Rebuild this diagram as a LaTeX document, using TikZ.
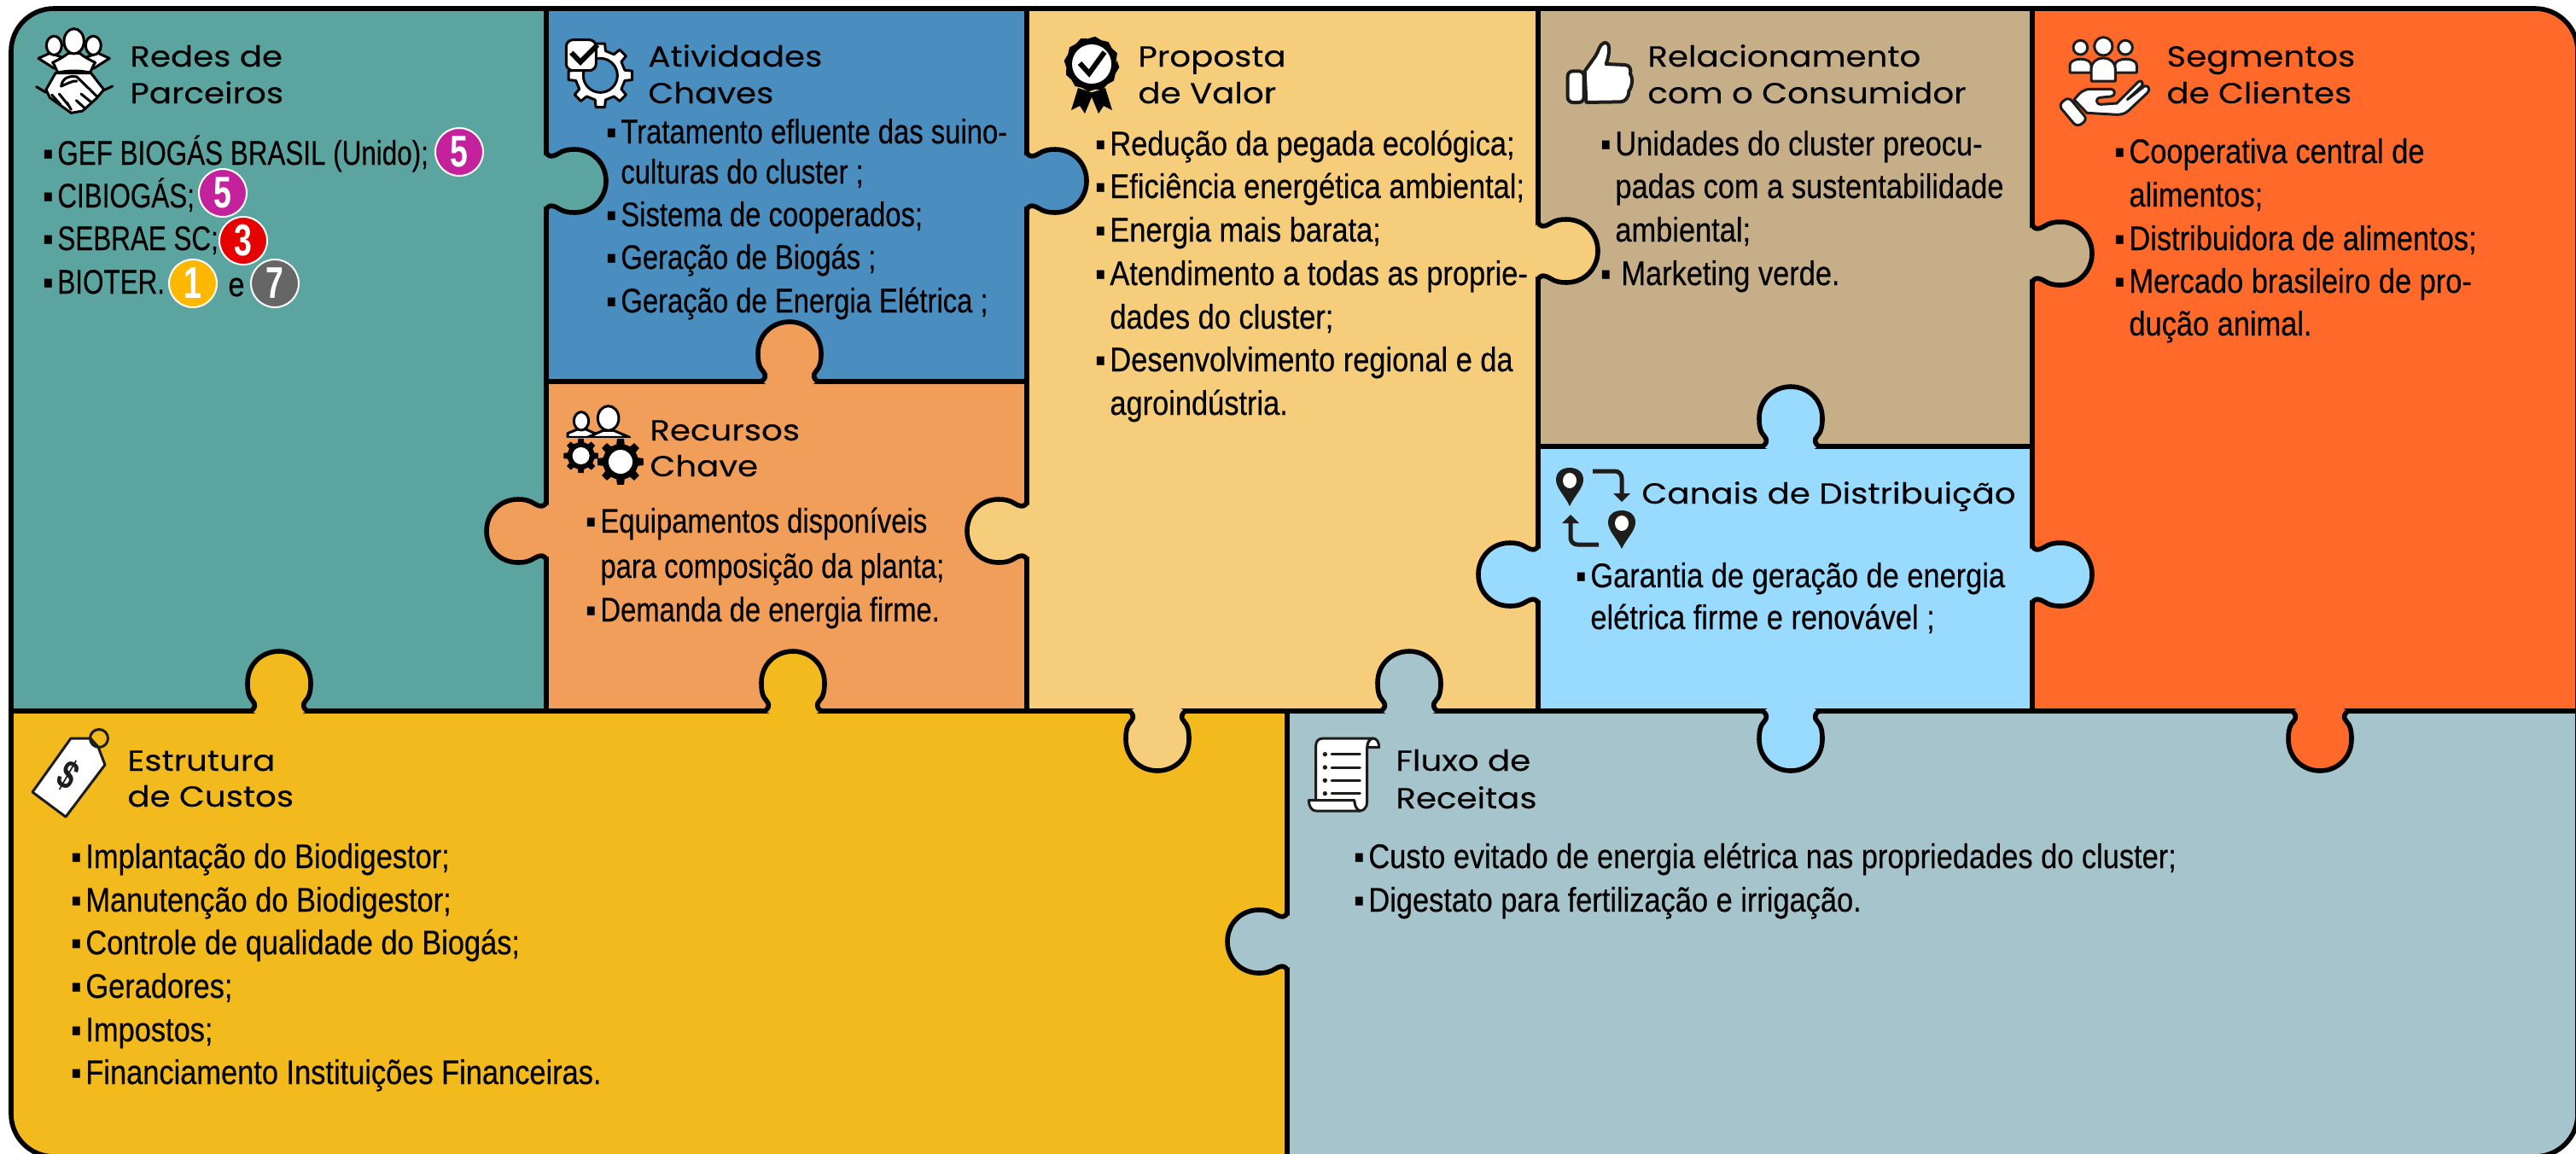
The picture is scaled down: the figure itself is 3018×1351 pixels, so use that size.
\documentclass[tikz,border=0pt]{standalone}
\usepackage{fontspec}
\setmainfont{Liberation Sans}
\newfontfamily\bodyf[FakeStretch=0.86,FakeBold=0.35]{Liberation Sans}
\newfontfamily\bodyn[FakeStretch=0.82,FakeBold=0.35]{Liberation Sans}
\newfontfamily\bodyc[FakeStretch=0.785,FakeBold=0.35]{Liberation Sans}
\newfontfamily\badgef[FakeStretch=0.72]{Liberation Sans}
\newfontfamily\headf[FakeStretch=1.14,FakeBold=0.15]{Poppins}
\definecolor{cteal}{HTML}{5BA4A0}
\definecolor{cblue}{HTML}{4A8EC0}
\definecolor{corange}{HTML}{F19E5B}
\definecolor{cyell}{HTML}{F6CD7B}
\definecolor{ctan}{HTML}{C6AF88}
\definecolor{cseg}{HTML}{FF6A2A}
\definecolor{csky}{HTML}{99DBFF}
\definecolor{cgold}{HTML}{F3BA1E}
\definecolor{cgray}{HTML}{A6C4CB}
\definecolor{cpurple}{HTML}{C4229C}
\definecolor{cred}{HTML}{E60000}
\definecolor{camber}{HTML}{FFB800}
\definecolor{cdgray}{HTML}{666666}
\definecolor{cink}{HTML}{1D1D1B}
\newcounter{nc}
% heading line
\newcommand\hdl[3]{\stepcounter{nc}\node[headtxt] (h\arabic{nc}) at (#1,#2) {#3};}
% body line with bullet / without
\newcommand\bul[3]{\stepcounter{nc}\node[bodytxt] (b\arabic{nc}) at (#1,#2) {\llap{▪\hspace{2.5pt}}#3};}
\newcommand\cont[3]{\stepcounter{nc}\node[bodytxt] (b\arabic{nc}) at (#1,#2) {#3};}
\newcommand\badge[4]{\stepcounter{nc}\node[badgenode,fill=#3] (d\arabic{nc}) at (#1,#2) {#4};}
% puzzle tabs: x, y, rotation, colour
\newcommand\htab[4]{\begin{scope}[shift={(#1,#2)},rotate=#3]
 \fill[#4] (-3.5,-28) -- (0,-35) .. controls (0,-29) and (6,-27) .. (14,-32) .. controls (20,-36) and (26,-37) .. (33,-37) .. controls (55,-37) and (70,-20) .. (70,0) .. controls (70,20) and (55,37) .. (33,37) .. controls (26,37) and (20,36) .. (14,32) .. controls (6,27) and (0,29) .. (0,35) -- (-3.5,28) -- cycle;
 \draw[tile] (0,-35) .. controls (0,-29) and (6,-27) .. (14,-32) .. controls (20,-36) and (26,-37) .. (33,-37) .. controls (55,-37) and (70,-20) .. (70,0) .. controls (70,20) and (55,37) .. (33,37) .. controls (26,37) and (20,36) .. (14,32) .. controls (6,27) and (0,29) .. (0,35);
 \end{scope}}
\newcommand\vtab[4]{\begin{scope}[shift={(#1,#2)},rotate=#3]
 \fill[#4] (-3.5,-26) -- (0,-33) .. controls (3,-29) and (5,-28) .. (9,-29) .. controls (14,-31) and (14,-37) .. (33,-37) .. controls (55,-37) and (70,-20) .. (70,0) .. controls (70,20) and (55,37) .. (33,37) .. controls (14,37) and (14,31) .. (9,29) .. controls (5,28) and (3,29) .. (0,33) -- (-3.5,26) -- cycle;
 \draw[tile] (0,-33) .. controls (3,-29) and (5,-28) .. (9,-29) .. controls (14,-31) and (14,-37) .. (33,-37) .. controls (55,-37) and (70,-20) .. (70,0) .. controls (70,20) and (55,37) .. (33,37) .. controls (14,37) and (14,31) .. (9,29) .. controls (5,28) and (3,29) .. (0,33);
 \end{scope}}
% gear: cx cy outer inner style
\newcommand\gear[5]{\filldraw[#5,shift={(#1,#2)}] (-12:#4) \foreach \a in {0,45,...,315} { -- (\a-12:#4) -- (\a-8:#3) -- (\a+8:#3) -- (\a+12:#4) } -- cycle;}
\newcommand\pinicon[2]{\begin{scope}[shift={(#1,#2)}]
 \fill[cink] (0,45) .. controls (-6,32) and (-16,24) .. (-16,14) .. controls (-16,5) and (-9,0) .. (0,0) .. controls (9,0) and (16,5) .. (16,14) .. controls (16,24) and (6,32) .. (0,45) -- cycle;
 \fill[white] (0,15) ellipse (8 and 9);
 \end{scope}}
\begin{document}
\begin{tikzpicture}[x=0.5pt,y=-0.5pt,
 tile/.style={draw=black,line width=2.8pt,line join=round,line cap=round},
 icon/.style={draw=black,fill=white,line width=1.5pt,line join=round,line cap=round},
 headtxt/.style={anchor=base west,inner sep=0pt,font=\headf\fontsize{17}{20}\selectfont},
 bodytxt/.style={anchor=base west,inner sep=0pt,font=\bodyf\fontsize{20}{24}\selectfont},
 badgenode/.style={circle,draw=white,line width=1pt,minimum size=28pt,inner sep=0pt,text=white,font=\badgef\bfseries\fontsize{26}{26}\selectfont}]
\useasboundingbox (0,0) rectangle (3018,1351);
\fill[white] (0,0) rectangle (3018,1351);
\begin{scope}
\clip[rounded corners=25pt] (13,10) rectangle (3020,1355);
\fill[cteal] (13,10) rectangle (640,833);
\fill[cblue] (640,10) rectangle (1203,447);
\fill[corange] (640,447) rectangle (1203,833);
\fill[cyell] (1203,10) rectangle (1802,833);
\fill[ctan] (1802,10) rectangle (2381,523);
\fill[csky] (1802,523) rectangle (2381,833);
\fill[cseg] (2381,10) rectangle (3020,833);
\fill[cgold] (13,833) rectangle (1508,1355);
\fill[cgray] (1508,833) rectangle (3020,1355);
\draw[tile] (640,10) -- (640,833);
\draw[tile] (1203,10) -- (1203,833);
\draw[tile] (1802,10) -- (1802,833);
\draw[tile] (2381,10) -- (2381,833);
\draw[tile] (640,447) -- (1203,447);
\draw[tile] (1802,523) -- (2381,523);
\draw[tile] (13,833) -- (3020,833);
\draw[tile] (1508,833) -- (1508,1355);
\htab{640}{212}{0}{cteal}
\htab{1203}{212}{0}{cblue}
\htab{1802}{294}{0}{cyell}
\htab{2381}{297}{0}{ctan}
\htab{640}{622}{180}{corange}
\htab{1203}{622}{180}{cyell}
\htab{1802}{673}{180}{csky}
\htab{2381}{673}{0}{csky}
\htab{1508}{1103}{180}{cgray}
\vtab{925}{447}{90}{corange}
\vtab{327}{833}{90}{cgold}
\vtab{929}{833}{90}{cgold}
\vtab{1356}{833}{270}{cyell}
\vtab{1651}{833}{90}{cgray}
\vtab{2098}{523}{90}{csky}
\vtab{2098}{833}{270}{csky}
\vtab{2718}{833}{270}{cseg}
\end{scope}
\draw[tile] [rounded corners=25pt] (13,10) rectangle (3020,1355);

% --- icon: partners
\begin{scope}[shift={(30,25)},scale=0.3333]
 \filldraw[icon] (45,130) -- (85,112) -- (125,125) -- (100,165) -- cycle;
 \filldraw[icon] (295,130) -- (255,112) -- (215,125) -- (240,165) -- cycle;
 \filldraw[icon] (100,85) ellipse (27 and 33);
 \filldraw[icon] (238,85) ellipse (27 and 33);
 \filldraw[icon] (105,182) -- (230,182) -- (275,240) -- (250,270) -- (200,315) -- (160,322) -- (85,268) -- (72,240) -- cycle;
 \filldraw[icon] (95,145) .. controls (115,135) and (135,125) .. (150,112) -- (190,112) .. controls (205,125) and (225,135) .. (245,145) .. controls (235,155) and (235,170) .. (225,180) .. controls (190,172) and (150,172) .. (115,180) .. controls (105,170) and (105,155) .. (95,145) -- cycle;
 \filldraw[icon] (170,70) ellipse (35 and 44);
 \draw[icon,fill=none] (38,230) -- (72,250);
 \draw[icon,fill=none] (305,228) -- (275,242);
 \draw[icon,fill=none] (125,228) .. controls (130,200) and (150,190) .. (180,195) -- (252,265);
 \draw[icon,fill=none] (125,228) .. controls (150,218) and (165,208) .. (180,210);
 \draw[icon,fill=none] (195,255) -- (228,282);
 \draw[icon,fill=none] (178,278) -- (208,305);
 \draw[icon,fill=none] (92,258) -- (122,292);
 \draw[icon,fill=none] (118,255) -- (148,292);
 \draw[icon,fill=none] (145,285) -- (160,310);
\end{scope}
% --- icon: activities
\begin{scope}[shift={(650,40)},scale=0.3333]
 \gear{160}{145}{113}{88}{icon}
 \filldraw[draw=black,fill=cblue,line width=1.5pt] (160,145) circle (60);
 \filldraw[icon,rounded corners=4pt] (40,20) rectangle (145,128);
 \draw[black,line width=3pt,line cap=butt,line join=miter] (58,65) -- (90,98) -- (150,38);
\end{scope}
% --- icon: value proposition
\begin{scope}[shift={(1279,75)}]
 \fill[black] (-16,28) -- (-24,54) -- (-14,49) -- (-8,58) -- (2,34) -- cycle;
 \fill[black] (16,28) -- (24,54) -- (14,49) -- (8,58) -- (-2,34) -- cycle;
 \fill[black] (0:28) \foreach \a in {0,30,...,330} { -- (\a-8:30) -- (\a+7:32.5) } -- cycle;
 \fill[white] (0,0) circle (23);
 \draw[black,line width=3pt,line cap=butt,line join=miter] (-14,-1) -- (-3,11) -- (15,-14);
\end{scope}
% --- icon: thumb
\begin{scope}[shift={(1825,40)},scale=0.3333]
 \filldraw[icon,line width=2pt,draw=cink] (95,130) -- (132,78) .. controls (145,60) and (145,35) .. (165,30) .. controls (185,30) and (185,60) .. (170,105) -- (235,108) .. controls (255,108) and (258,125) .. (255,140) .. controls (268,160) and (258,190) .. (250,200) .. controls (250,225) and (235,238) .. (220,238) -- (100,240) -- cycle;
 \filldraw[icon,line width=2pt,draw=cink,rounded corners=3pt] (35,130) rectangle (92,240);
\end{scope}
% --- icon: customers
\begin{scope}[shift={(2405,35)},scale=0.3333]
 \begin{scope}[every path/.append style={icon,draw=cink}]
 \filldraw (97,62) circle (25);
 \filldraw (255,62) circle (25);
 \filldraw (60,150) -- (60,125) .. controls (60,95) and (135,95) .. (135,125) -- (135,150) -- cycle;
 \filldraw (218,150) -- (218,125) .. controls (218,95) and (295,95) .. (295,125) -- (295,150) -- cycle;
 \filldraw (178,58) circle (32);
 \filldraw (135,180) -- (135,140) .. controls (135,85) and (220,85) .. (220,140) -- (220,180) -- cycle;
 \filldraw (75,245) .. controls (95,222) and (105,208) .. (135,208) -- (205,208) .. controls (220,208) and (222,232) .. (205,234) -- (165,238) .. controls (150,240) and (150,262) .. (170,262) -- (225,258) -- (298,185) .. controls (308,172) and (322,185) .. (312,198) -- (262,245) -- (322,198) .. controls (335,192) and (345,210) .. (332,222) -- (268,282) .. controls (255,295) and (240,298) .. (225,298) -- (120,292) -- cycle;
 \filldraw[rounded corners=3pt] (20,265) -- (55,235) -- (122,315) -- (85,342) -- cycle;
 \end{scope}
\end{scope}
% --- icon: resources
\begin{scope}[shift={(645,465)},scale=0.3333]
 \filldraw[icon] (60,142) -- (60,128) -- (100,112) -- (120,112) -- (160,130) -- (160,142) -- cycle;
 \filldraw[icon] (108,85) ellipse (26 and 32);
 \filldraw[icon] (130,142) -- (185,118) -- (222,118) -- (278,142) -- cycle;
 \filldraw[icon] (203,75) ellipse (37 and 43);
 \fill[corange] (50,145) rectangle (290,150);
 \gear{107}{207}{60}{47}{fill=black,draw=black}
 \fill[white] (107,207) circle (30);
 \gear{246}{228}{80}{62}{fill=black,draw=black}
 \fill[white] (246,228) circle (42);
\end{scope}
% --- icon: channels
\pinicon{1839}{548}
\pinicon{1900}{598}
\draw[cink,line width=2.5pt,rounded corners=4pt,line cap=butt] (1866,552) -- (1900,552) -- (1900,582);
\fill[cink] (1890,578) -- (1910,578) -- (1900,588) -- cycle;
\draw[cink,line width=2.5pt,rounded corners=4pt,line cap=butt] (1873,638) -- (1840,638) -- (1840,610);
\fill[cink] (1830,613) -- (1850,613) -- (1840,603) -- cycle;
% --- icon: price tag
\filldraw[draw=cink,fill=white,line width=1.5pt,line join=round] (83,865) -- (106,865) -- (115,875) -- (123,896) -- (77,957) -- (38,928) -- cycle;
\draw[cink,line width=1.5pt] (116,865) circle (10.5);
\node[inner sep=0pt,rotate=-30,text=cink,font=\badgef\bfseries\fontsize{24}{24}\selectfont] (tagsign) at (80,908) {\$};
% --- icon: scroll
\begin{scope}[shift={(1525,855)},scale=0.3333]
 \begin{scope}[every path/.append style={line width=1.5pt,draw=cink,fill=white,line join=round}]
 \filldraw (230,62) .. controls (232,40) and (240,30) .. (250,30) .. controls (265,30) and (272,45) .. (272,62) -- cycle;
 \filldraw (50,250) -- (50,55) .. controls (50,40) and (60,30) .. (75,30) -- (250,30) .. controls (238,32) and (230,45) .. (230,62) -- (230,255) .. controls (230,275) and (215,285) .. (205,285) .. controls (190,285) and (185,265) .. (185,248) -- cycle;
 \filldraw (25,248) -- (185,248) .. controls (186,265) and (192,280) .. (205,285) -- (50,285) .. controls (35,285) and (25,268) .. (25,248) -- cycle;
 \end{scope}
 \foreach \yy in {86,132,178,224} {
  \fill[cink] (82,\yy) circle (8);
  \draw[cink,line width=1.5pt,line cap=round] (105,\yy) -- (205,\yy);
 }
\end{scope}

% --- headings
\hdl{152}{78}{Redes de}
\hdl{152}{121}{Parceiros}
\hdl{759}{78}{Atividades}
\hdl{759}{121}{Chaves}
\hdl{1333}{78}{Proposta}
\hdl{1333}{121}{de Valor}
\hdl{1930}{78}{Relacionamento}
\hdl{1930}{121}{com o Consumidor}
\hdl{2538}{78}{Segmentos}
\hdl{2538}{121}{de Clientes}
\hdl{761}{516}{Recursos}
\hdl{761}{558}{Chave}
\hdl{1923}{590}{Canais de Distribuição}
\hdl{149}{903}{Estrutura}
\hdl{149}{945}{de Custos}
\hdl{1635}{903}{Fluxo de}
\hdl{1635}{947}{Receitas}

% --- body: partners
\bul{67}{193}{\bodyc GEF BIOGÁS BRASIL (Unido);}
\bul{67}{243}{\bodyc CIBIOGÁS;}
\bul{67}{293}{\bodyc SEBRAE SC;}
\bul{67}{344}{\bodyc BIOTER.}
\cont{267}{347}{e}
\badge{538}{178}{cpurple}{5}
\badge{261}{226}{cpurple}{5}
\badge{285}{282}{cred}{3}
\badge{226}{332}{camber}{1}
\badge{322}{332}{cdgray}{7}
% activities
\bul{727}{168}{\bodyn Tratamento efluente das suino-}
\cont{727}{215}{\bodyn culturas do cluster ;}
\bul{727}{265}{\bodyn Sistema de cooperados;}
\bul{727}{315}{\bodyn Geração de Biogás ;}
\bul{727}{366}{\bodyn Geração de Energia Elétrica ;}
% resources
\bul{703}{624}{\bodyn Equipamentos disponíveis}
\cont{703}{677}{\bodyn para composição da planta;}
\bul{703}{728}{\bodyn Demanda de energia firme.}
% value
\bul{1300}{182}{Redução da pegada ecológica;}
\bul{1300}{232}{Eficiência energética ambiental;}
\bul{1300}{283}{Energia mais barata;}
\bul{1300}{334}{Atendimento a todas as proprie-}
\cont{1300}{385}{dades do cluster;}
\bul{1300}{435}{Desenvolvimento regional e da}
\cont{1300}{486}{agroindústria.}
% relationship
\bul{1892}{182}{Unidades do cluster preocu-}
\cont{1892}{232}{padas com a sustentabilidade}
\cont{1892}{283}{ambiental;}
\bul{1892}{334}{\hspace{3.5pt}Marketing verde.}
% channels
\bul{1863}{688}{Garantia de geração de energia}
\cont{1863}{737}{elétrica firme e renovável ;}
% segments
\bul{2494}{191}{Cooperativa central de}
\cont{2494}{242}{alimentos;}
\bul{2494}{293}{Distribuidora de alimentos;}
\bul{2494}{343}{Mercado brasileiro de pro-}
\cont{2494}{393}{dução animal.}
% costs
\bul{100}{1017}{Implantação do Biodigestor;}
\bul{100}{1068}{Manutenção do Biodigestor;}
\bul{100}{1118}{Controle de qualidade do Biogás;}
\bul{100}{1169}{Geradores;}
\bul{100}{1220}{Impostos;}
\bul{100}{1270}{Financiamento Instituições Financeiras.}
% revenue
\bul{1603}{1017}{Custo evitado de energia elétrica nas propriedades do cluster;}
\bul{1603}{1068}{Digestato para fertilização e irrigação.}
\end{tikzpicture}
\end{document}
